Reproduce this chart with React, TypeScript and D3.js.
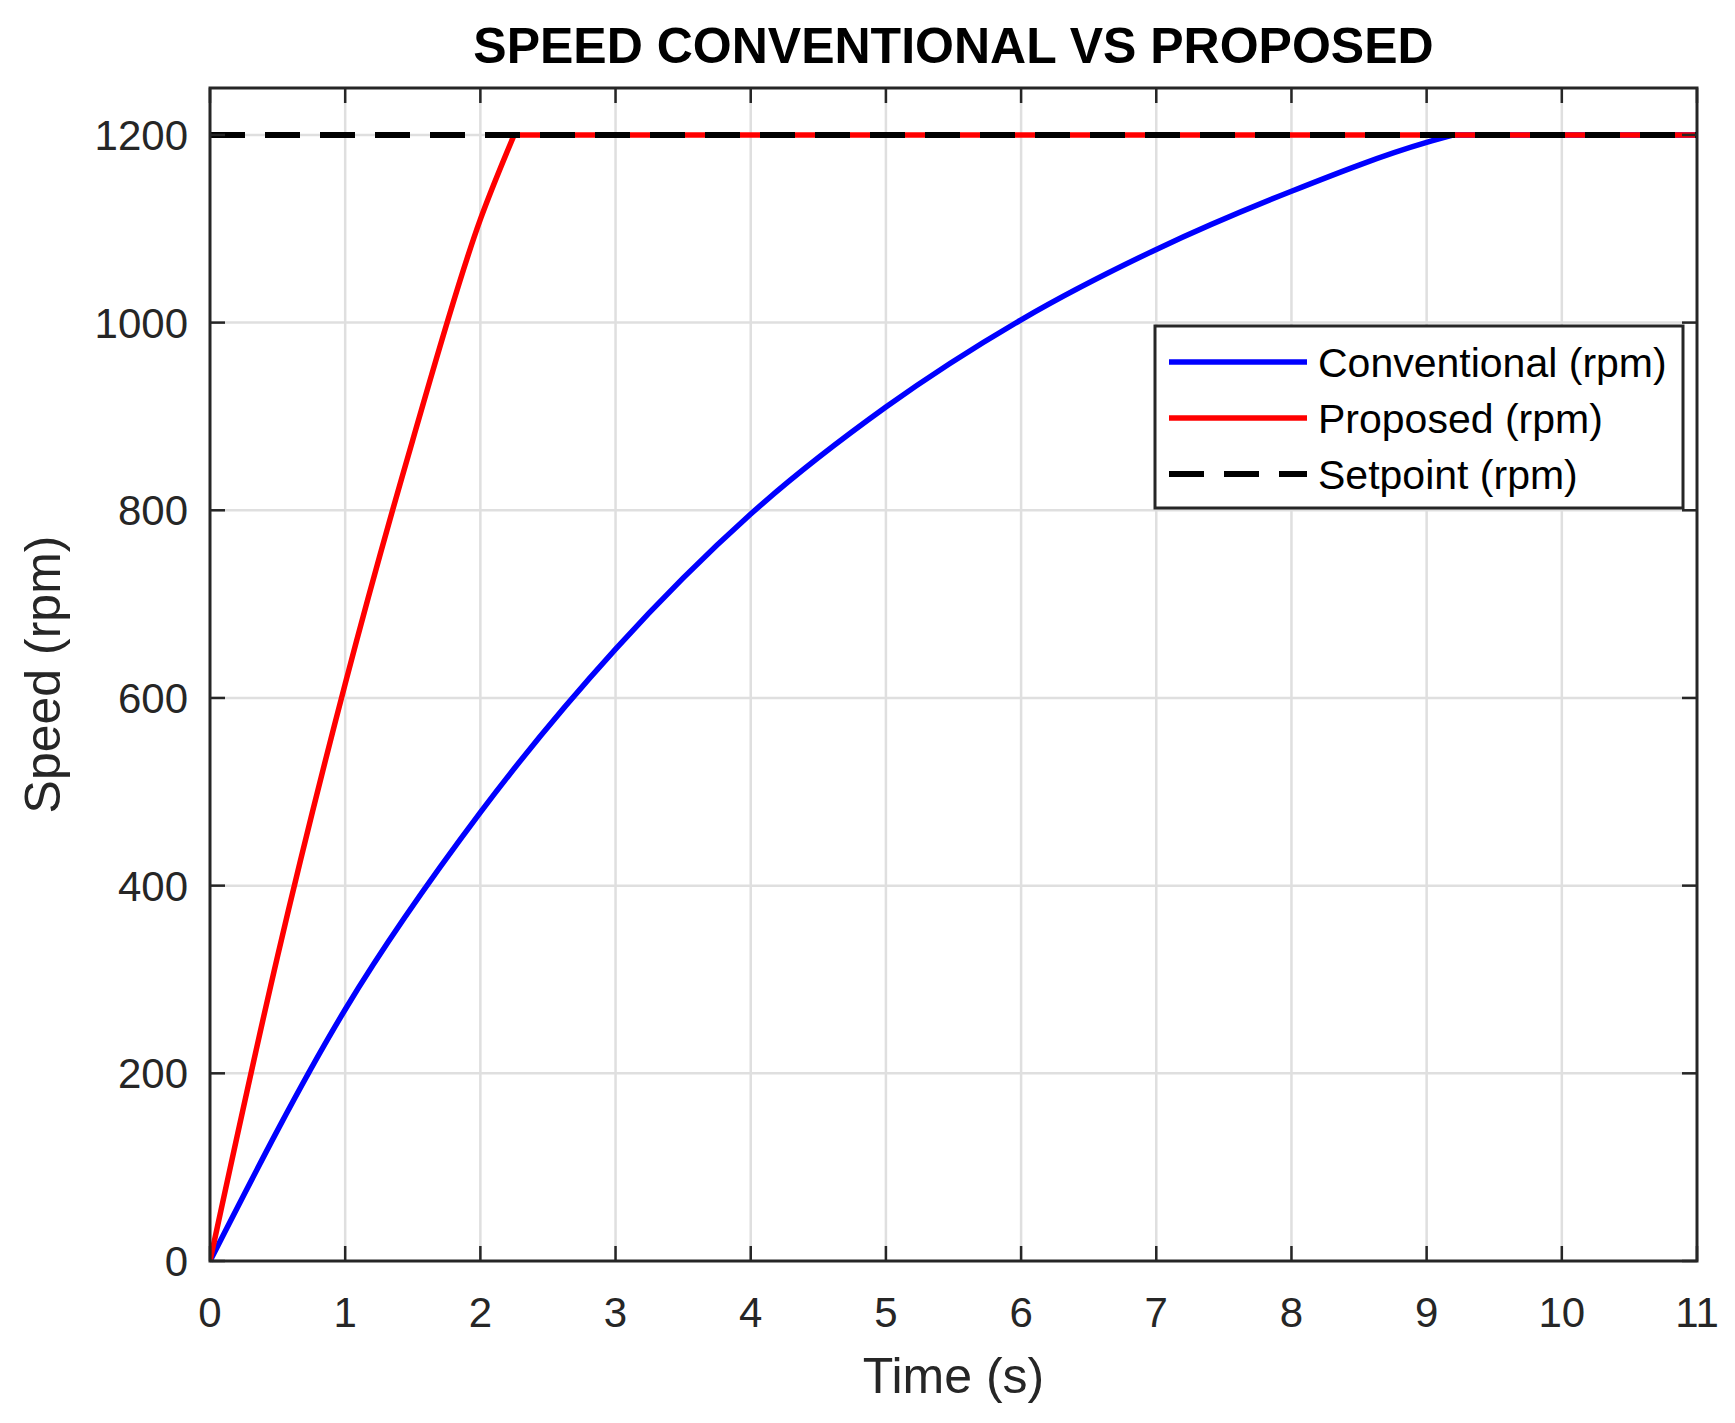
import * as d3 from "d3";

// time axis (s) and speed readings (rpm); each run rises to the setpoint, then holds it
const conventionalTime = [0, 1, 2, 3, 4, 5, 6, 7, 8, 9, 9.2, 11];
const conventionalSpeed = [0, 268, 478, 652, 796, 910, 1003, 1078, 1140, 1192, 1200, 1200];

const proposedTime = [0, 0.5, 1, 1.5, 2, 2.25, 11];
const proposedSpeed = [0, 325, 615, 875, 1110, 1200, 1200];

const setpointTime = [0, 11];
const setpointSpeed = [1200, 1200];

const xTicks = [0, 1, 2, 3, 4, 5, 6, 7, 8, 9, 10, 11];
const yTicks = [0, 200, 400, 600, 800, 1000, 1200];

const legendLabels = ["Conventional (rpm)", "Proposed (rpm)", "Setpoint (rpm)"];
const legendColors = ["#0000ff", "#ff0000", "#000000"];

const W = 1735;
const H = 1423;
const left = 210;
const right = 1697;
const top = 88;
const bottom = 1261;
const font = "'Liberation Sans', Arial, Helvetica, sans-serif";
const axisColor = "#262626";
const gridColor = "#dfdfdf";
const tickLen = 15;

const zip = (t: number[], v: number[]) => t.map((tt, i) => [tt, v[i]] as [number, number]);

export default function App() {
  const x = d3.scaleLinear().domain([0, 11]).range([left, right]);
  const y = d3.scaleLinear().domain([0, 1250]).range([bottom, top]);

  const curve = d3
    .line<[number, number]>()
    .curve(d3.curveMonotoneX)
    .x((d) => x(d[0]))
    .y((d) => y(d[1]));
  const straight = d3
    .line<[number, number]>()
    .x((d) => x(d[0]))
    .y((d) => y(d[1]));

  // smooth rise, then a straight hold at the setpoint
  const riseThenHold = (t: number[], v: number[]) => {
    const pts = zip(t, v);
    const rise = pts.slice(0, -1);
    const hold = pts.slice(-2);
    return (curve(rise) ?? "") + (straight(hold) ?? "").replace(/^M/, "L");
  };

  const blueD = riseThenHold(conventionalTime, conventionalSpeed);
  const redD = riseThenHold(proposedTime, proposedSpeed);
  const blackD = straight(zip(setpointTime, setpointSpeed)) ?? "";

  const lgX = 1155;
  const lgY = 326;
  const lgW = 528;
  const lgH = 182;
  const rowY = [362, 418, 474];

  return (
    <svg
      width={W}
      height={H}
      viewBox={`0 0 ${W} ${H}`}
      style={{ position: "absolute", left: 0, top: 0, background: "#fff" }}
      fontFamily={font}
    >
      <rect x={0} y={0} width={W} height={H} fill="#fff" />

      {/* grid */}
      {xTicks
        .filter((t) => t > 0 && t < 11)
        .map((t) => (
          <line key={`gx${t}`} x1={x(t)} x2={x(t)} y1={top} y2={bottom} stroke={gridColor} strokeWidth={2.5} />
        ))}
      {yTicks
        .filter((t) => t > 0)
        .map((t) => (
          <line key={`gy${t}`} x1={left} x2={right} y1={y(t)} y2={y(t)} stroke={gridColor} strokeWidth={2.5} />
        ))}

      {/* data */}
      <defs>
        <clipPath id="plot">
          <rect x={left} y={top} width={right - left} height={bottom - top + 8} />
        </clipPath>
      </defs>
      <g clipPath="url(#plot)">
        <path d={blueD} fill="none" stroke="#0000ff" strokeWidth={5.5} strokeLinejoin="round" />
        <path d={redD} fill="none" stroke="#ff0000" strokeWidth={5.5} strokeLinejoin="round" />
        <path d={blackD} fill="none" stroke="#000000" strokeWidth={6} strokeDasharray="35 20" />
      </g>

      {/* ticks */}
      {xTicks.map((t) => (
        <g key={`tx${t}`}>
          <line x1={x(t)} x2={x(t)} y1={bottom} y2={bottom - tickLen} stroke={axisColor} strokeWidth={2.5} />
          <line x1={x(t)} x2={x(t)} y1={top} y2={top + tickLen} stroke={axisColor} strokeWidth={2.5} />
          <text x={x(t)} y={1327} fontSize={42} fill={axisColor} textAnchor="middle">
            {t}
          </text>
        </g>
      ))}
      {yTicks.map((t) => (
        <g key={`ty${t}`}>
          <line x1={left} x2={left + tickLen} y1={y(t)} y2={y(t)} stroke={axisColor} strokeWidth={2.5} />
          <line x1={right} x2={right - tickLen} y1={y(t)} y2={y(t)} stroke={axisColor} strokeWidth={2.5} />
          <text x={188} y={y(t) + 15} fontSize={42} fill={axisColor} textAnchor="end">
            {t}
          </text>
        </g>
      ))}

      {/* box */}
      <rect x={left} y={top} width={right - left} height={bottom - top} fill="none" stroke={axisColor} strokeWidth={3} />

      {/* title and axis labels */}
      <text x={(left + right) / 2} y={63} fontSize={50} fontWeight="bold" fill="#000" textAnchor="middle">
        SPEED CONVENTIONAL VS PROPOSED
      </text>
      <text x={(left + right) / 2} y={1393} fontSize={50} fill={axisColor} textAnchor="middle">
        Time (s)
      </text>
      <text
        transform={`translate(60, ${(top + bottom) / 2}) rotate(-90)`}
        fontSize={50}
        fill={axisColor}
        textAnchor="middle"
      >
        Speed (rpm)
      </text>

      {/* legend */}
      <rect x={lgX} y={lgY} width={lgW} height={lgH} fill="#fff" stroke={axisColor} strokeWidth={3} />
      {legendLabels.map((label, i) => (
        <g key={label}>
          <line
            x1={1169}
            x2={1307}
            y1={rowY[i]}
            y2={rowY[i]}
            stroke={legendColors[i]}
            strokeWidth={i === 2 ? 6 : 5.5}
            strokeDasharray={i === 2 ? "35 20" : undefined}
          />
          <text x={1318} y={rowY[i] + 15} fontSize={41} fill="#000">
            {label}
          </text>
        </g>
      ))}
    </svg>
  );
}
